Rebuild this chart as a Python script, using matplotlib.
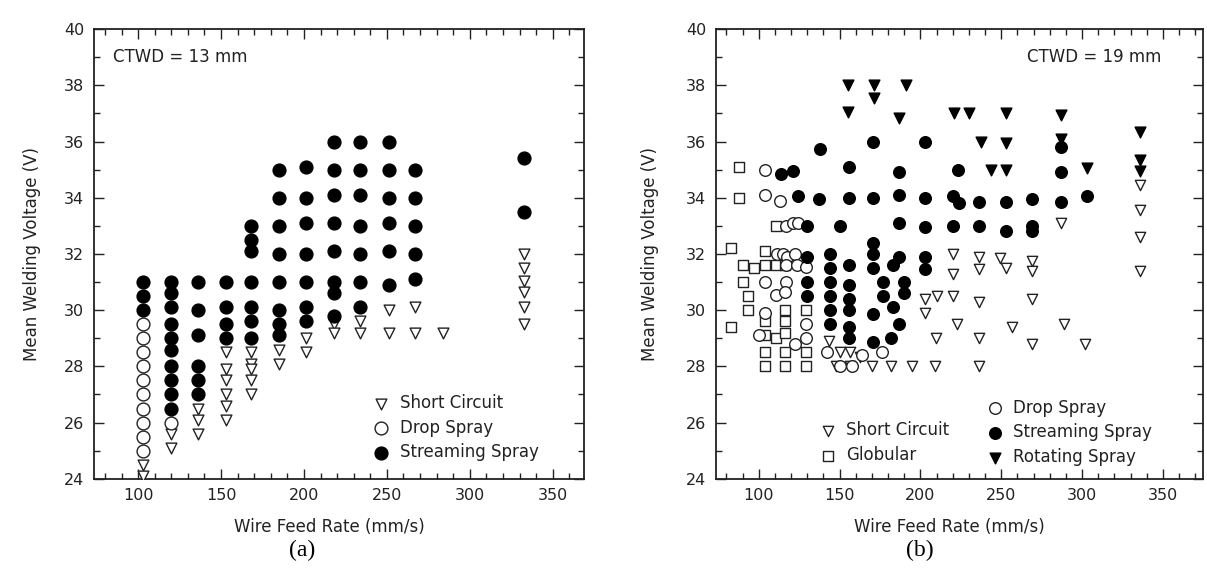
import matplotlib
matplotlib.use("Agg")
import matplotlib.pyplot as plt
from matplotlib.ticker import MultipleLocator

# ------------------ DATA : CTWD = 13 mm ------------------

a_stream_x = [103, 103, 103,
              120, 120, 120, 120, 120, 120, 120, 120, 120, 120,
              136, 136, 136, 136, 136, 136,
              153, 153, 153, 153,
              168, 168, 168, 168, 168, 168, 168,
              185, 185, 185, 185, 185, 185, 185, 185,
              201, 201, 201, 201, 201, 201, 201,
              218, 218, 218, 218, 218, 218, 218, 218,
              234, 234, 234, 234, 234, 234, 234,
              251, 251, 251, 251, 251, 251,
              267, 267, 267, 267, 267,
              333, 333]
a_stream_y = [31.0, 30.5, 30.0,
              31.0, 30.6, 30.1, 29.5, 29.0, 28.6, 28.0, 27.5, 27.0, 26.5,
              31.0, 30.0, 29.1, 28.0, 27.5, 27.0,
              31.0, 30.1, 29.5, 29.0,
              33.0, 32.5, 32.1, 31.0, 30.1, 29.6, 29.0,
              35.0, 34.0, 33.0, 32.0, 31.0, 30.0, 29.5, 29.1,
              35.1, 34.0, 33.1, 32.0, 31.0, 30.1, 29.6,
              36.0, 35.0, 34.1, 33.1, 32.1, 31.0, 30.6, 29.8,
              36.0, 35.0, 34.1, 33.0, 32.0, 31.0, 30.1,
              36.0, 35.0, 34.0, 33.1, 32.1, 30.9,
              35.0, 34.0, 33.0, 32.0, 31.1,
              35.4, 33.5]

a_drop_x = [103, 103, 103, 103, 103, 103, 103, 103, 103, 103, 120]
a_drop_y = [29.5, 29.0, 28.5, 28.0, 27.5, 27.0, 26.5, 26.0, 25.5, 25.0, 26.0]

a_short_x = [103, 103, 120, 120, 136, 136, 136,
             153, 153, 153, 153, 153, 153,
             168, 168, 168, 168, 168,
             185, 185, 201, 201, 218, 218, 234, 234, 251, 251, 267, 267, 284,
             333, 333, 333, 333, 333, 333]
a_short_y = [24.5, 24.1, 25.6, 25.1, 26.5, 26.1, 25.6,
             28.5, 27.9, 27.5, 27.0, 26.6, 26.1,
             28.5, 28.1, 27.9, 27.5, 27.0,
             28.6, 28.1, 29.0, 28.5, 29.5, 29.2, 29.6, 29.2, 30.0, 29.2, 30.1, 29.2, 29.2,
             32.0, 31.5, 31.05, 30.65, 30.1, 29.5]

# ------------------ DATA : CTWD = 19 mm ------------------

b_glob_x = [83, 83, 88, 88, 90.5, 90.5, 93.5, 93.5, 97,
            104, 104, 104, 104, 104, 104,
            110.5, 110.5, 110.5,
            116.5, 116.5, 116.5, 116.5, 116.5, 116.5,
            129, 129, 129]
b_glob_y = [32.2, 29.4, 35.1, 34.0, 31.6, 31.0, 30.5, 30.0, 31.5,
            32.1, 31.6, 29.6, 29.1, 28.5, 28.0,
            33.0, 31.6, 29.0,
            31.6, 30.0, 29.6, 29.2, 28.5, 28.0,
            30.0, 28.5, 28.0]

b_drop_x = [104, 104, 113, 117, 121, 124.5, 111, 115, 117.5, 122.5,
            117, 123.5, 129.5, 104, 117, 110.5, 116.5, 104, 100,
            122.5, 129, 129, 142, 150.5, 157.5, 164, 176]
b_drop_y = [35.0, 34.1, 33.9, 33.0, 33.1, 33.1, 32.0, 32.0, 31.9, 32.0,
            31.6, 31.6, 31.55, 31.0, 31.0, 30.55, 30.65, 29.9, 29.1,
            28.8, 29.0, 29.5, 28.5, 28.0, 28.0, 28.4, 28.5]

b_stream_x = [113.5, 121, 124, 130, 130, 130, 130,
              137, 138,
              144, 144, 144, 144, 144, 144,
              150,
              156, 156, 156, 156, 156, 156, 156, 156,
              170.5, 170.5, 170.5, 170.5, 170.5, 170.5, 170.5,
              177, 177, 183, 187, 183, 187, 182, 190, 190,
              187, 187, 187,
              203, 203, 203, 203, 203,
              220, 224, 223.5, 220,
              236, 236, 253, 253,
              269, 269, 269,
              287, 287, 287, 303]
b_stream_y = [34.85, 34.95, 34.05, 33.0, 31.9, 31.0, 30.5,
              33.95, 35.75,
              32.0, 31.5, 31.0, 30.5, 30.0, 29.5,
              33.0,
              35.1, 34.0, 31.6, 30.9, 30.4, 30.0, 29.4, 29.0,
              36.0, 34.0, 32.4, 32.0, 31.5, 29.85, 28.85,
              31.0, 30.5, 31.6, 31.9, 30.1, 29.5, 29.0, 31.0, 30.6,
              34.9, 34.1, 33.1,
              36.0, 34.0, 32.95, 31.9, 31.45,
              34.05, 33.8, 35.0, 33.0,
              33.85, 33.0, 33.85, 32.8,
              33.95, 33.0, 32.8,
              35.8, 34.9, 33.85, 34.05]

b_rot_x = [155, 155, 171, 171, 191, 187, 221, 230, 237.5, 253, 253,
           243.5, 253, 287, 287, 303, 336, 336, 336]
b_rot_y = [38.0, 37.05, 38.0, 37.55, 38.0, 36.85, 37.0, 37.0, 36.0, 37.0, 35.95,
           35.0, 35.0, 36.95, 36.1, 35.05, 36.35, 35.35, 34.95]

b_short_x = [143.5, 150, 156.5, 162.5, 148, 156.5,
             170, 182, 195, 209, 236,
             203, 210, 203, 220, 222.5, 209.5,
             220, 220, 236, 236, 236, 236,
             249, 253, 256.5, 269, 269, 269, 269,
             287, 289, 302, 336, 336, 336, 336]
b_short_y = [28.9, 28.5, 28.5, 28.35, 28.0, 28.0,
             28.0, 28.0, 28.0, 28.0, 28.0,
             30.4, 30.5, 29.9, 30.5, 29.5, 29.0,
             32.0, 31.3, 31.9, 31.45, 30.3, 29.0,
             31.85, 31.5, 29.4, 31.75, 31.4, 30.4, 28.8,
             33.1, 29.5, 28.8, 34.45, 33.55, 32.6, 31.4]

INK = "#222222"
plt.rcParams["font.family"] = ["DejaVu Sans"]
plt.rcParams["font.size"] = 12


# ------------------ AXES STYLE ------------------

def style_axes(ax, xlim):
    ax.set_xlim(*xlim)
    ax.set_ylim(24, 40)
    ax.xaxis.set_major_locator(MultipleLocator(50))
    ax.xaxis.set_minor_locator(MultipleLocator(10))
    ax.yaxis.set_major_locator(MultipleLocator(2))
    ax.yaxis.set_minor_locator(MultipleLocator(1))
    ax.tick_params(which="both", direction="in", top=True, right=True,
                   colors=INK, labelsize=11.5, width=1.0)
    ax.tick_params(which="major", length=7, pad=7)
    ax.tick_params(which="minor", length=4)
    for s in ax.spines.values():
        s.set_color(INK)
        s.set_linewidth(1.3)
    ax.set_xlabel("Wire Feed Rate (mm/s)", color=INK)
    ax.set_ylabel("Mean Welding Voltage (V)", color=INK)
    ax.xaxis.set_label_coords(0.48, -0.088)


fig = plt.figure(figsize=(12.07, 5.72), dpi=100)
ax1 = fig.add_axes([0.078, 0.163, 0.406, 0.786])
ax2 = fig.add_axes([0.593, 0.163, 0.404, 0.786])

# ------------------ PANEL A ------------------

ax1.scatter(a_short_x, a_short_y, s=60, marker="v", facecolors="white",
            edgecolors=INK, linewidths=1.0, label="Short Circuit", zorder=3)
ax1.scatter(a_drop_x, a_drop_y, s=85, marker="o", facecolors="white",
            edgecolors=INK, linewidths=1.0, label="Drop Spray", zorder=3)
ax1.scatter(a_stream_x, a_stream_y, s=85, marker="o", color="black",
            label="Streaming Spray", zorder=3)
style_axes(ax1, (73.5, 369))
ax1.yaxis.set_label_coords(-0.108, 0.5)
ax1.text(85, 39.0, "CTWD = 13 mm", color=INK, va="center")
ax1.legend(loc="lower left", bbox_to_anchor=(0.552, 0.02), frameon=False,
           borderpad=0, handlelength=1.0, handletextpad=0.6,
           labelspacing=0.4, labelcolor=INK)

# ------------------ PANEL B ------------------

sc = ax2.scatter(b_short_x, b_short_y, s=55, marker="v", facecolors="white",
                 edgecolors=INK, linewidths=1.0, label="Short Circuit", zorder=3)
gl = ax2.scatter(b_glob_x, b_glob_y, s=48, marker="s", facecolors="white",
                 edgecolors=INK, linewidths=1.0, label="Globular", zorder=3)
dr = ax2.scatter(b_drop_x, b_drop_y, s=70, marker="o", facecolors="white",
                 edgecolors=INK, linewidths=1.0, label="Drop Spray", zorder=3)
st = ax2.scatter(b_stream_x, b_stream_y, s=70, marker="o", color="black",
                 label="Streaming Spray", zorder=3)
ro = ax2.scatter(b_rot_x, b_rot_y, s=60, marker="v", color="black",
                 label="Rotating Spray", zorder=3)
style_axes(ax2, (73.4, 375))
ax2.yaxis.set_label_coords(-0.116, 0.5)
ax2.text(266, 39.0, "CTWD = 19 mm", color=INK, va="center")
leg = ax2.legend(handles=[sc, gl], loc="lower left",
                 bbox_to_anchor=(0.195, 0.014), frameon=False, borderpad=0,
                 handlelength=1.0, handletextpad=0.6, labelspacing=0.4,
                 labelcolor=INK)
ax2.add_artist(leg)
ax2.legend(handles=[dr, st, ro], loc="lower left",
           bbox_to_anchor=(0.538, 0.01), frameon=False, borderpad=0,
           handlelength=1.0, handletextpad=0.6, labelspacing=0.4,
           labelcolor=INK)

# ------------------ PANEL LABELS ------------------

fig.text(0.25, 0.038, "(a)", family="Liberation Serif", fontsize=17,
         ha="center", va="center")
fig.text(0.762, 0.038, "(b)", family="Liberation Serif", fontsize=17,
         ha="center", va="center")

fig.savefig("out.png", dpi=100)
